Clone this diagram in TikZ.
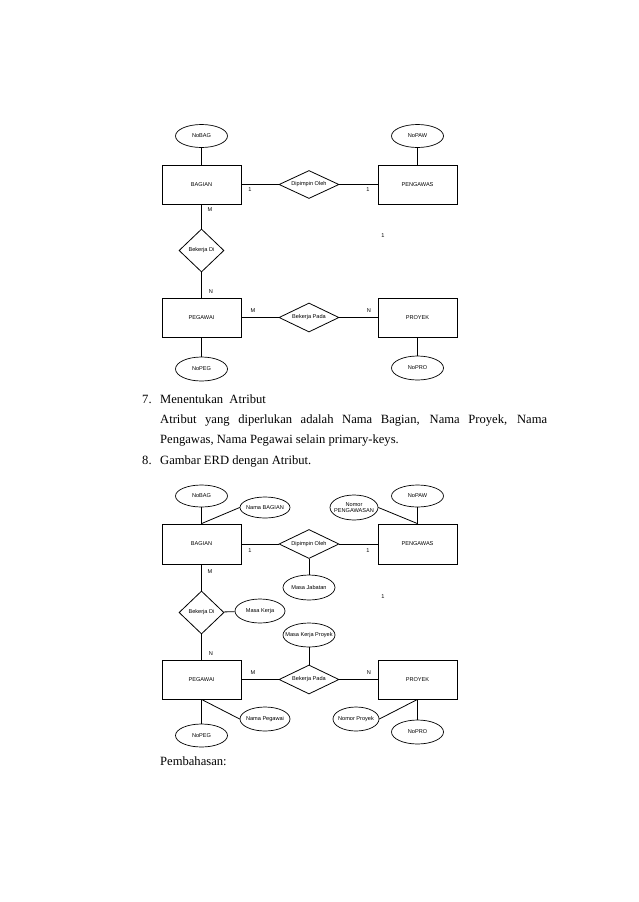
\documentclass[tikz,border=0pt]{standalone}
\usepackage{fontspec}
\setmainfont{Liberation Serif}
\newfontfamily\arialf{Liberation Sans}
\usetikzlibrary{shapes.geometric}
\newcommand\dgfont{\arialf\fontsize{5.6}{6.4}\selectfont}
\newcommand\bodyfont{\fontsize{12.6}{20}\selectfont}
\newcommand\zb[1]{\makebox[0pt]{#1}}
\begin{document}
\begin{tikzpicture}[x=1pt,y=-1pt,
  ent/.style={draw, line width=0.8pt, minimum width=79pt, minimum height=39pt, inner sep=0pt, font=\dgfont},
  attr/.style={draw, ellipse, line width=0.7pt, minimum width=52pt, minimum height=23pt, inner sep=0pt, font=\dgfont, align=center},
  rel/.style={draw, diamond, aspect=2.6, line width=0.8pt, inner sep=0pt, font=\dgfont},
  relsq/.style={draw, diamond, aspect=1, line width=0.8pt, inner sep=0pt, font=\dgfont},
  card/.style={font=\dgfont, inner sep=0pt},
  link/.style={line width=0.8pt},
  txt/.style={font=\bodyfont, inner sep=0pt, anchor=base west}]
\useasboundingbox (0,0) rectangle (638,902);
\fill[white] (0,0) rectangle (638,902);

% ---------- Diagram 1 ----------
\node[attr] (nobagA) at (201.5,136) {NoBAG};
\node[attr] (nopawA) at (417.5,136) {NoPAW};
\node[ent] (bagA) at (201.5,184.5) {BAGIAN};
\node[ent] (pengA) at (417.5,184.5) {PENGAWAS};
\node[rel, minimum width=60pt, minimum height=28pt] (dipA) at (309,184.5) {Dipimpin Oleh};
\node[relsq, minimum width=45pt, minimum height=43pt] (bdA) at (201.5,250.5) {Bekerja Di};
\node[ent] (pegA) at (201.5,317.5) {PEGAWAI};
\node[ent] (proA) at (417.5,317.5) {PROYEK};
\node[rel, minimum width=60pt, minimum height=29pt] (bpA) at (309,317.5) {Bekerja Pada};
\node[attr, minimum height=24pt] (nopegA) at (201.5,369) {NoPEG};
\node[attr, minimum height=24pt] (noproA) at (417.5,368) {NoPRO};

\node[card] (cA1) at (250,190) {1};
\node[card] (cA2) at (368,190) {1};
\node[card] (cA3) at (210,210) {M};
\node[card] (cA4) at (383,236) {1};
\node[card] (cA5) at (211,292) {N};
\node[card] (cA6) at (253,311) {M};
\node[card] (cA7) at (369,311) {N};

\draw[link] (nobagA) -- (bagA);
\draw[link] (nopawA) -- (pengA);
\draw[link] (bagA) -- (dipA) -- (pengA);
\draw[link] (bagA) -- (bdA) -- (pegA);
\draw[link] (pegA) -- (bpA) -- (proA);
\draw[link] (pegA) -- (nopegA);
\draw[link] (proA) -- (noproA);

% ---------- Text ----------
\node[txt] (n7) at (142,403) {7.};
\node[txt] (t7) at (160,403) {Menentukan\ \ Atribut};
\node[txt] (p1) at (160,423) {\makebox[387pt][s]{Atribut yang diperlukan adalah Nama Bagian, Nama Proyek, Nama}};
\node[txt] (p2) at (160,443) {Pengawas, Nama Pegawai selain primary-keys.};
\node[txt] (n8) at (142,464) {8.};
\node[txt] (t8) at (160,464) {Gambar ERD dengan Atribut.};

% ---------- Diagram 2 ----------
\node[attr, minimum height=22pt] (nobagB) at (201.5,496) {NoBAG};
\node[attr, minimum width=50pt, minimum height=21pt] (nbagB) at (265,507.5) {\zb{Nama BAGIAN}};
\node[attr, minimum width=48pt, minimum height=25pt] (nompB) at (354,507.5) {\zb{Nomor}\\[-1pt]\zb{PENGAWASAN}};
\node[attr, minimum height=22pt] (nopawB) at (417.5,496) {NoPAW};
\node[ent, minimum height=40pt] (bagB) at (201.5,544) {BAGIAN};
\node[ent, minimum height=40pt] (pengB) at (417.5,544) {PENGAWAS};
\node[rel, minimum width=60pt, minimum height=29pt] (dipB) at (309,544) {Dipimpin Oleh};
\node[attr, minimum height=25pt] (mjB) at (309,587.5) {\zb{Masa Jabatan}};
\node[relsq, minimum width=45pt, minimum height=43pt] (bdB) at (201.5,612.5) {Bekerja Di};
\node[attr, minimum width=50pt, minimum height=24pt] (mkB) at (260,611) {\zb{Masa Kerja}};
\node[attr, minimum height=24pt] (mkpB) at (309,635) {\zb{Masa Kerja Proyek}};
\node[ent] (pegB) at (201.5,679.5) {PEGAWAI};
\node[ent] (proB) at (417.5,679.5) {PROYEK};
\node[rel, minimum width=60pt, minimum height=29pt] (bpB) at (309,679.5) {Bekerja Pada};
\node[attr, minimum width=50pt, minimum height=24pt] (npegB) at (265,719) {\zb{Nama Pegawai}};
\node[attr, minimum width=46pt, minimum height=24pt] (nproyB) at (356,719) {\zb{Nomor Proyek}};
\node[attr, minimum height=23pt] (nopegB) at (201.5,735.5) {NoPEG};
\node[attr, minimum height=24pt] (noproB) at (417.5,732) {NoPRO};

\node[card] (cB1) at (250,551) {1};
\node[card] (cB2) at (368,551) {1};
\node[card] (cB3) at (210,572) {M};
\node[card] (cB4) at (383,597) {1};
\node[card] (cB5) at (211,654) {N};
\node[card] (cB6) at (253,673) {M};
\node[card] (cB7) at (369,673) {N};

\draw[link] (nobagB) -- (bagB);
\draw[link] (bagB.north) -- (nbagB.west);
\draw[link] (nopawB) -- (pengB);
\draw[link] (nompB.east) -- (pengB.north);
\draw[link] (bagB) -- (dipB) -- (pengB);
\draw[link] (dipB) -- (mjB);
\draw[link] (bagB) -- (bdB) -- (pegB);
\draw[link] (bdB) -- (mkB);
\draw[link] (mkpB) -- (bpB);
\draw[link] (pegB) -- (bpB) -- (proB);
\draw[link] (pegB) -- (nopegB);
\draw[link] (pegB.south) -- (npegB.west);
\draw[link] (proB) -- (noproB);
\draw[link] (proB.south) -- (nproyB.east);

\node[txt] (pemb) at (160,765) {Pembahasan:};
\end{tikzpicture}
\end{document}
